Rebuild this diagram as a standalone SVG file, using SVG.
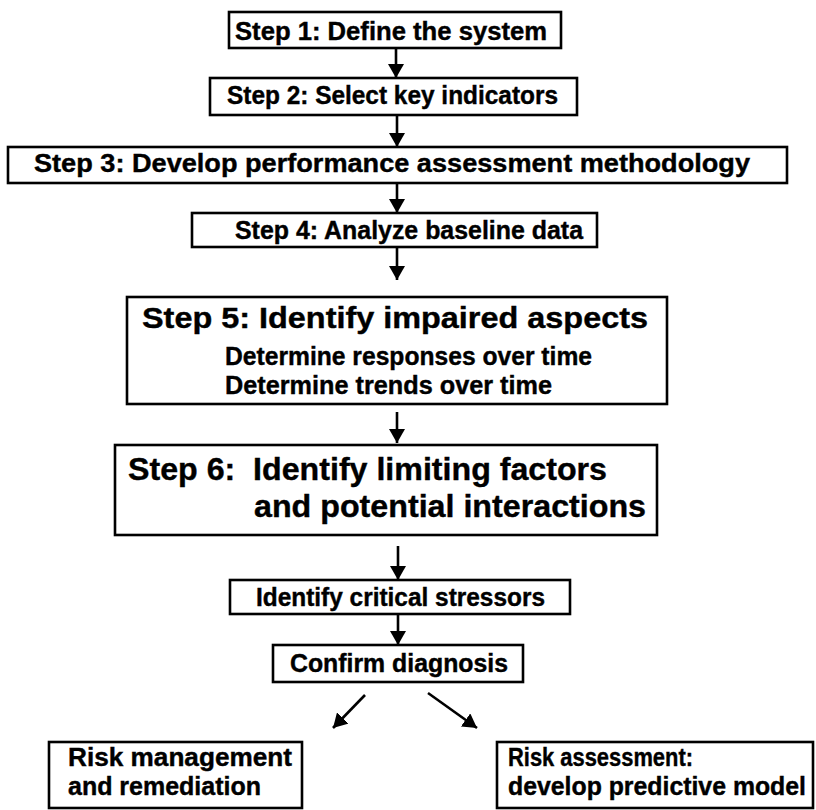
<svg xmlns="http://www.w3.org/2000/svg" width="816" height="810" viewBox="0 0 816 810">
  <style>
    .box { fill: #fff; stroke: #000; stroke-width: 2.6; }
    .t { font-family: "Liberation Sans", Arial, Helvetica, sans-serif; font-weight: bold; fill: #000; stroke: #000; stroke-width: 0.4; white-space: pre; }
    .s25 { font-size: 25px; }
    .conn line { stroke: #000; stroke-width: 2.6; marker-end: url(#ah); }
  </style>
  <defs>
    <marker id="ah" markerUnits="userSpaceOnUse" viewBox="0 0 14 16" refX="14" refY="8" markerWidth="14" markerHeight="16" orient="auto">
      <path d="M0,0 L14,8 L0,16 z" fill="#000"/>
    </marker>
  </defs>
  <rect width="816" height="810" fill="#fff"/>

  <!-- process steps -->
  <g id="step1">
    <rect class="box" x="229" y="12" width="332" height="36"/>
    <text class="t s25" x="235" y="40" textLength="312" lengthAdjust="spacingAndGlyphs">Step 1: Define the system</text>
  </g>
  <g id="step2">
    <rect class="box" x="210" y="78" width="367" height="37"/>
    <text class="t s25" x="227" y="104" textLength="331" lengthAdjust="spacingAndGlyphs">Step 2: Select key indicators</text>
  </g>
  <g id="step3">
    <rect class="box" x="8" y="147" width="779" height="36"/>
    <text class="t" font-size="26" x="34" y="172" textLength="716" lengthAdjust="spacingAndGlyphs">Step 3: Develop performance assessment methodology</text>
  </g>
  <g id="step4">
    <rect class="box" x="192" y="213" width="405" height="34"/>
    <text class="t s25" x="235" y="239" textLength="348" lengthAdjust="spacingAndGlyphs">Step 4: Analyze baseline data</text>
  </g>
  <g id="step5">
    <rect class="box" x="127" y="297" width="540" height="107"/>
    <text class="t" font-size="30" x="142" y="328" textLength="506" lengthAdjust="spacingAndGlyphs">Step 5: Identify impaired aspects</text>
    <text class="t s25" x="225" y="365" textLength="367" lengthAdjust="spacingAndGlyphs">Determine responses over time</text>
    <text class="t s25" x="225" y="394" textLength="327" lengthAdjust="spacingAndGlyphs">Determine trends over time</text>
  </g>
  <g id="step6">
    <rect class="box" x="115" y="445" width="542" height="90"/>
    <text class="t" font-size="32" x="128" y="480" textLength="479" lengthAdjust="spacingAndGlyphs">Step 6:  Identify limiting factors</text>
    <text class="t" font-size="32" x="254" y="517" textLength="392" lengthAdjust="spacingAndGlyphs">and potential interactions</text>
  </g>
  <g id="stressors">
    <rect class="box" x="230" y="580" width="340" height="34"/>
    <text class="t s25" x="256" y="606" textLength="289" lengthAdjust="spacingAndGlyphs">Identify critical stressors</text>
  </g>
  <g id="diagnosis">
    <rect class="box" x="273" y="645" width="250" height="37"/>
    <text class="t s25" x="290" y="672" textLength="218" lengthAdjust="spacingAndGlyphs">Confirm diagnosis</text>
  </g>
  <g id="management">
    <rect class="box" x="49" y="742" width="253" height="66"/>
    <text class="t s25" x="68" y="766" textLength="224" lengthAdjust="spacingAndGlyphs">Risk management</text>
    <text class="t s25" x="68" y="795" textLength="193" lengthAdjust="spacingAndGlyphs">and remediation</text>
  </g>
  <g id="assessment">
    <rect class="box" x="497" y="742" width="316" height="66"/>
    <text class="t s25" x="508" y="766" textLength="185" lengthAdjust="spacingAndGlyphs">Risk assessment:</text>
    <text class="t s25" x="508" y="795" textLength="298" lengthAdjust="spacingAndGlyphs">develop predictive model</text>
  </g>

  <!-- connectors -->
  <g id="connectors" class="conn">
    <line x1="396" y1="48" x2="396" y2="78"/>
    <line x1="397" y1="115" x2="397" y2="147"/>
    <line x1="397" y1="183" x2="397" y2="213"/>
    <line x1="397" y1="247" x2="397" y2="280"/>
    <line x1="397" y1="412" x2="397" y2="443"/>
    <line x1="398" y1="546" x2="398" y2="580"/>
    <line x1="398" y1="614" x2="398" y2="645"/>
    <line x1="365" y1="695" x2="333" y2="728"/>
    <line x1="428" y1="693" x2="477" y2="728"/>
  </g>
</svg>
